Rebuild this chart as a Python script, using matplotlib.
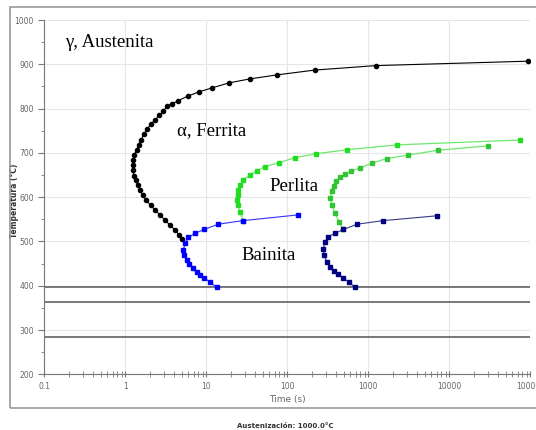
import numpy as np
import matplotlib
matplotlib.use("Agg")
import matplotlib.pyplot as plt
from matplotlib.patches import Rectangle

# ferrite start curve (time s, temperature C)
ferr_t = [93300, 1230, 220, 74, 34.4, 19.1, 11.9, 8.2, 5.89, 4.51, 3.74, 3.27,
          2.96, 2.64, 2.33, 2.07, 1.87, 1.70, 1.56, 1.46, 1.38, 1.28, 1.26, 1.24, 1.24,
          1.28, 1.34, 1.42, 1.52, 1.64, 1.80, 2.05, 2.33, 2.68, 3.09, 3.56, 4.11, 4.60, 5.01]
ferr_T = [907, 897, 887, 876, 867, 858, 847, 838, 828, 818, 810, 806,
          794, 785, 774, 765, 754, 742, 729, 718, 706, 695, 684, 673, 661,
          648, 639, 627, 616, 605, 594, 582, 571, 560, 548, 537, 526, 515, 505]

# pearlite curves
perl1_t = [74600, 2244, 541, 226, 124, 79, 53, 41.9, 34.7, 28.6, 26.4, 24.8,
           24.3, 23.7, 24.3, 26.4, 28.6]
perl1_T = [729, 718, 707, 698, 689, 678, 669, 659, 650, 639, 627, 616,
           605, 594, 582, 566, 547]
perl2_t = [30300, 7315, 3117, 1686, 1119, 789, 611, 516, 448, 399, 372, 352,
           341, 356, 388, 435, 491]
perl2_T = [716, 706, 695, 687, 677, 666, 659, 652, 645, 636, 625, 614,
           598, 582, 564, 544, 527]

# bainite curves
bain1_t = [137, 28.6, 14.1, 9.4, 7.2, 6.0, 5.5, 5.2, 5.35, 5.7, 6.2, 6.8,
           7.6, 8.4, 9.4, 11.1, 13.4]
bain1_T = [560, 547, 539, 527, 518, 509, 496, 481, 469, 458, 448, 439,
           430, 424, 417, 409, 396]
bain2_t = [7110, 1531, 731, 491, 388, 321, 292, 278, 284, 306, 337, 377,
           427, 491, 582, 685]
bain2_T = [558, 547, 539, 527, 518, 511, 499, 484, 469, 454, 443, 434,
           426, 417, 408, 396]

# martensite lines
mart_T = [396, 364, 285]

fig = plt.figure(figsize=(5.36, 4.30), dpi=100)
fig.patches.append(Rectangle((10 / 536, 1 - 408 / 430), 0.99, (408 - 7) / 430,
                             transform=fig.transFigure, fill=False,
                             edgecolor="#9a9a9a", lw=1.2))
ax = fig.add_axes([44.3 / 536, 1 - 374.3 / 430, 486 / 536, 354.3 / 430])

ax.set_xscale("log")
ax.set_xlim(0.1, 100000)
ax.set_ylim(200, 1000)
ax.grid(True, which="major", color="#e6e6e6", lw=0.8)
ax.set_axisbelow(True)

for T in mart_T:
    ax.axhline(T, color="#555555", lw=1.1)

ax.plot(ferr_t, ferr_T, color="black", lw=0.8, marker="o", ms=3.0)
ax.plot(perl1_t, perl1_T, color="#6ee86e", lw=0.9, marker="s", ms=3.2,
        mfc="#22dd22", mec="#22dd22")
ax.plot(perl2_t, perl2_T, color="#6ee86e", lw=0.9, marker="s", ms=2.8,
        mfc="#33c433", mec="#33c433")
ax.plot(bain1_t, bain1_T, color="#3333ff", lw=0.8, marker="s", ms=3.2,
        mfc="#0000ff", mec="#0000ff")
ax.plot(bain2_t, bain2_T, color="#3a3a8a", lw=0.8, marker="s", ms=3.2,
        mfc="#000080", mec="#000080")

serif = "Liberation Serif"
ax.text(0.18, 950, "γ, Austenita", family=serif, fontsize=13.5, va="center")
ax.text(4.4, 751, "α, Ferrita", family=serif, fontsize=13.5, va="center")
ax.text(61, 625, "Perlita", family=serif, fontsize=13.5, va="center")
ax.text(26.8, 469, "Bainita", family=serif, fontsize=13.5, va="center")

for s in ["top", "right"]:
    ax.spines[s].set_visible(False)
for s in ["left", "bottom"]:
    ax.spines[s].set_color("#777777")

ax.set_yticks(np.arange(200, 1001, 100))
ax.set_yticks(np.arange(250, 1000, 100), minor=True)
ax.set_xticks([0.1, 1, 10, 100, 1000, 10000, 100000])
ax.set_xticklabels(["0.1", "1", "10", "100", "1000", "10000", "100000"])
ax.tick_params(axis="both", which="both", colors="#777777", labelsize=5.5,
               labelcolor="#666666")
ax.tick_params(axis="x", which="both", direction="inout", length=4)
ax.tick_params(axis="y", which="major", length=4)
ax.tick_params(axis="y", which="minor", length=2.5)

ax.set_xlabel("Time (s)", fontsize=6.5, color="#666666", labelpad=3)
ax.set_ylabel("Temperatura (°C)", fontsize=5.5, fontweight="bold",
              color="#333333")
ax.yaxis.set_label_coords(-0.053, 0.49)

fig.text(285 / 536, 1 - 426 / 430, "Austenización: 1000.0°C", fontsize=5,
         fontweight="bold", ha="center", va="center", color="#333333")

fig.savefig("out.png", dpi=100)
